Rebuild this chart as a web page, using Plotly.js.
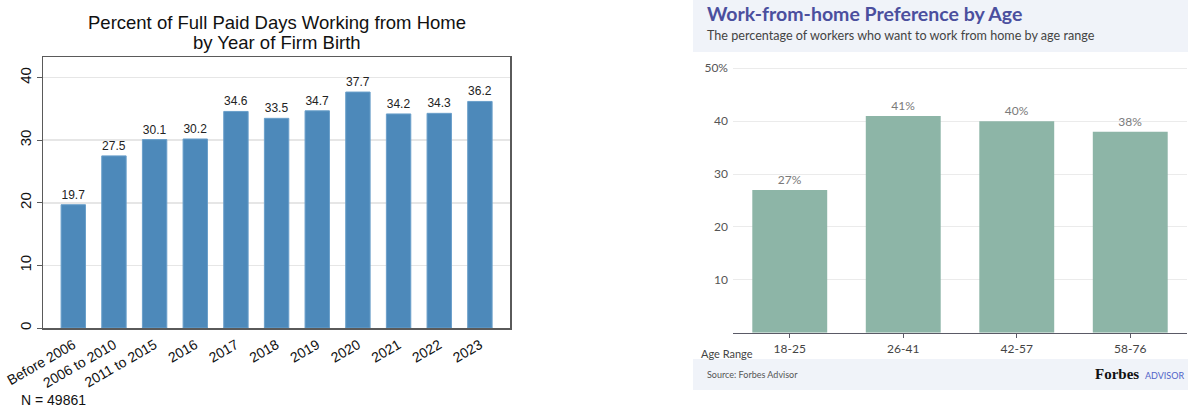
<!DOCTYPE html>
<html>
<head>
<meta charset="utf-8">
<script src="https://cdn.plot.ly/plotly-3.0.1.min.js"></script>
<style>html,body{margin:0;padding:0;background:#fff;}#chart{width:1188px;height:411px;}</style>
</head>
<body>
<div id="chart"></div>
<script>
// Left chart data
const firmBirth = ["Before 2006","2006 to 2010","2011 to 2015","2016","2017","2018","2019","2020","2021","2022","2023"];
const wfhPercent = [19.7, 27.5, 30.1, 30.2, 34.6, 33.5, 34.7, 37.7, 34.2, 34.3, 36.2];
const leftTickVals = [0, 10, 20, 30, 40];

// Right chart data
const ageRanges = ["18-25","26-41","42-57","58-76"];
const wfhPreference = [27, 41, 40, 38];
const rightTickVals = [10, 20, 30, 40, 50];
const rightTickText = ["10","20","30","40","50%"];

const H = 411, W = 1188;
const px = x => x / W;
const py = y => (H - y) / H;

const traces = [
  {
    type: 'bar', x: firmBirth, y: wfhPercent, xaxis: 'x', yaxis: 'y',
    marker: {color: '#4d89ba', line: {color: '#6a9fca', width: 1}},
    width: 0.6,
    text: wfhPercent.map(v => v.toFixed(1)), textposition: 'outside',
    textfont: {family: 'Liberation Sans', size: 12, color: '#222'},
    cliponaxis: false, hoverinfo: 'none'
  },
  {
    type: 'bar', x: ageRanges, y: wfhPreference, xaxis: 'x2', yaxis: 'y2',
    marker: {color: '#8db5a7'},
    width: 0.66,
    text: wfhPreference.map(v => v + '%'), textposition: 'outside',
    textfont: {family: 'Lato', size: 12, color: '#7a7a7a'},
    cliponaxis: false, hoverinfo: 'none'
  }
];

const layout = {
  width: W, height: H,
  margin: {l: 0, r: 0, t: 0, b: 0},
  paper_bgcolor: '#ffffff', plot_bgcolor: 'rgba(0,0,0,0)',
  showlegend: false,
  bargap: 0.4,
  xaxis: {
    domain: [px(43), px(510)], anchor: 'y', type: 'category',
    range: [-0.745, 10.74],
    showline: true, linecolor: '#5a5a5a', linewidth: 1.5, mirror: true,
    ticks: '',
    ticklabelstandoff: 2,
    tickangle: -30,
    tickfont: {family: 'Liberation Sans', size: 14, color: '#111'},
    showgrid: false, zeroline: false
  },
  yaxis: {
    domain: [py(328), py(57)], anchor: 'x',
    range: [0, 43.3],
    tickvals: leftTickVals,
    showline: true, linecolor: '#5a5a5a', linewidth: 1.5, mirror: true,
    ticks: 'outside', ticklen: 5, tickcolor: '#5a5a5a',
    tickangle: -90,
    tickfont: {family: 'Liberation Sans', size: 15, color: '#111'},
    showgrid: true, gridcolor: '#e6e6e6', gridwidth: 1.5, zeroline: false
  },
  xaxis2: {
    domain: [px(733), px(1187)], anchor: 'y2', type: 'category',
    range: [-0.5, 3.5],
    showline: true, linecolor: '#5a5a66', linewidth: 1.5,
    ticks: 'outside', ticklen: 4, tickcolor: '#5a5a66',
    tickfont: {family: 'Lato', size: 12, color: '#444'},
    showgrid: false, zeroline: false
  },
  yaxis2: {
    domain: [py(332.7), py(63)], anchor: 'x2',
    range: [0, 51],
    tickvals: rightTickVals, ticktext: rightTickText,
    showline: false, ticks: '',
    tickfont: {family: 'Lato', size: 12, color: '#555'},
    ticklabelstandoff: 4,
    showgrid: true, gridcolor: '#ebebeb', gridwidth: 1, zeroline: false
  },
  shapes: [
    {type: 'rect', xref: 'paper', yref: 'paper', x0: px(693), x1: 1, y0: py(52), y1: 1,
     fillcolor: '#f0f3f9', line: {width: 0}, layer: 'below'},
    {type: 'rect', xref: 'paper', yref: 'paper', x0: px(693), x1: 1, y0: py(390), y1: py(359),
     fillcolor: '#f0f3f9', line: {width: 0}, layer: 'below'}
  ],
  annotations: [
    {xref: 'paper', yref: 'paper', x: px(277), y: py(22), xanchor: 'center', yanchor: 'middle',
     text: 'Percent of Full Paid Days Working from Home', showarrow: false,
     font: {family: 'Liberation Sans', size: 18.5, color: '#111'}},
    {xref: 'paper', yref: 'paper', x: px(277), y: py(43), xanchor: 'center', yanchor: 'middle',
     text: 'by Year of Firm Birth', showarrow: false,
     font: {family: 'Liberation Sans', size: 18.5, color: '#111'}},
    {xref: 'paper', yref: 'paper', x: px(19), y: py(400), xanchor: 'left', yanchor: 'middle',
     text: 'N = 49861', showarrow: false,
     font: {family: 'Liberation Sans', size: 14, color: '#111'}},
    {xref: 'paper', yref: 'paper', x: px(705), y: py(14), xanchor: 'left', yanchor: 'middle',
     text: '<b>Work-from-home Preference by Age</b>', showarrow: false,
     font: {family: 'Lato', size: 19.5, color: '#4b4f9e'}},
    {xref: 'paper', yref: 'paper', x: px(705), y: py(35.5), xanchor: 'left', yanchor: 'middle',
     text: 'The percentage of workers who want to work from home by age range', showarrow: false,
     font: {family: 'Lato', size: 12.6, color: '#444'}},
    {xref: 'paper', yref: 'paper', x: px(699), y: py(353), xanchor: 'left', yanchor: 'middle',
     text: 'Age Range', showarrow: false,
     font: {family: 'Lato', size: 11, color: '#444'}},
    {xref: 'paper', yref: 'paper', x: px(705), y: py(374), xanchor: 'left', yanchor: 'middle',
     text: 'Source: Forbes Advisor', showarrow: false,
     font: {family: 'Lato', size: 9, color: '#555'}},
    {xref: 'paper', yref: 'paper', x: px(1141), y: py(374), xanchor: 'right', yanchor: 'middle',
     text: '<b>Forbes</b>', showarrow: false,
     font: {family: 'Liberation Serif', size: 15, color: '#111'}},
    {xref: 'paper', yref: 'paper', x: px(1186), y: py(375), xanchor: 'right', yanchor: 'middle',
     text: 'ADVISOR', showarrow: false,
     font: {family: 'Lato', size: 9, color: '#5063c8'}}
  ]
};

Plotly.newPlot('chart', traces, layout, {staticPlot: true, displayModeBar: false});
</script>
</body>
</html>
